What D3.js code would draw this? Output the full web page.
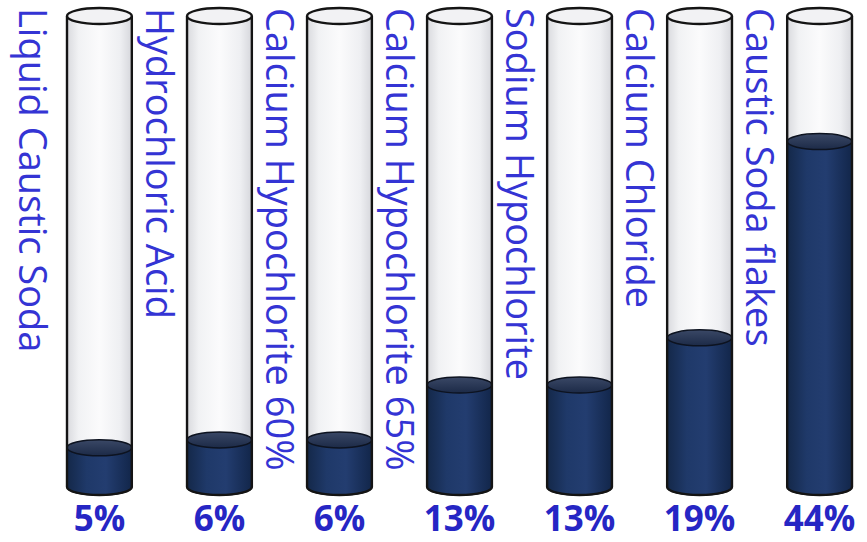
<!DOCTYPE html>
<html>
<head>
<meta charset="utf-8">
<title>Tubes</title>
<style>
body { margin: 0; background: #ffffff; }
svg { display: block; }
.label { font-family: "Open Sans", sans-serif; font-size: 38px; fill: #3434d4; }
.pct { font-family: "Open Sans", sans-serif; font-size: 35px; font-weight: bold; fill: #2626c4; }
</style>
</head>
<body>
<script src="https://cdn.jsdelivr.net/npm/d3@7"></script>
<script>
var categories = ["Liquid Caustic Soda", "Hydrochloric Acid", "Calcium Hypochlorite 60%",
                  "Calcium Hypochlorite 65%", "Sodium Hypochlorite", "Calcium Chloride",
                  "Caustic Soda flakes"];
var values = [5, 6, 6, 13, 13, 19, 44];
var valueLabels = ["5%", "6%", "6%", "13%", "13%", "19%", "44%"];

var width = 867, height = 542;
var ry = 8;

var svg = d3.select("body").append("svg")
    .attr("width", width)
    .attr("height", height);

var x = d3.scaleBand()
    .domain(categories)
    .range([67, 852])
    .paddingInner(0.46);

var y = d3.scaleLinear()
    .domain([0, 60])
    .range([487, 16]);

var defs = svg.append("defs");

var glass = defs.append("linearGradient").attr("id", "glass");
[[0, "#d9dade"], [0.18, "#f1f2f4"], [0.5, "#fbfbfc"], [0.82, "#eeeff2"], [1, "#d6d7dc"]]
    .forEach(function(s) {
        glass.append("stop").attr("offset", s[0]).attr("stop-color", s[1]);
    });

var liquid = defs.append("linearGradient").attr("id", "liquid");
[[0, "#142849"], [0.3, "#1f3969"], [0.6, "#233d70"], [1, "#12264a"]]
    .forEach(function(s) {
        liquid.append("stop").attr("offset", s[0]).attr("stop-color", s[1]);
    });

var surface = defs.append("linearGradient").attr("id", "surface")
    .attr("x1", 0).attr("y1", 0).attr("x2", 0).attr("y2", 1);
[[0, "#3a4866"], [1, "#1c2a47"]]
    .forEach(function(s) {
        surface.append("stop").attr("offset", s[0]).attr("stop-color", s[1]);
    });

var yBottom = y(0), yRim = y.range()[1];

var tubes = svg.selectAll("g.tube")
    .data(categories)
    .enter()
    .append("g")
    .attr("class", "tube");

function bodyPath(x0, w, yTop) {
    var rx = w / 2;
    return "M" + x0 + "," + yTop +
        "L" + x0 + "," + yBottom +
        "A" + rx + "," + ry + " 0 0 0 " + (x0 + w) + "," + yBottom +
        "L" + (x0 + w) + "," + yTop + "Z";
}

// glass
tubes.append("path")
    .attr("d", function(d) { return bodyPath(x(d), x.bandwidth(), yRim); })
    .attr("fill", "url(#glass)");

// liquid
tubes.append("path")
    .attr("d", function(d, i) { return bodyPath(x(d), x.bandwidth(), y(values[i])); })
    .attr("fill", "url(#liquid)")
    .attr("stroke", "#0d1320")
    .attr("stroke-width", 1.5);

tubes.append("ellipse")
    .attr("cx", function(d) { return x(d) + x.bandwidth() / 2; })
    .attr("cy", function(d, i) { return y(values[i]); })
    .attr("rx", x.bandwidth() / 2)
    .attr("ry", ry)
    .attr("fill", "url(#surface)")
    .attr("stroke", "#0d1320")
    .attr("stroke-width", 1.5);

// outline
tubes.append("path")
    .attr("d", function(d) {
        var x0 = x(d), w = x.bandwidth();
        return "M" + x0 + "," + yRim + "L" + x0 + "," + yBottom +
            "A" + (w / 2) + "," + ry + " 0 0 0 " + (x0 + w) + "," + yBottom +
            "L" + (x0 + w) + "," + yRim;
    })
    .attr("fill", "none")
    .attr("stroke", "#141414")
    .attr("stroke-width", 2.4);

tubes.append("ellipse")
    .attr("cx", function(d) { return x(d) + x.bandwidth() / 2; })
    .attr("cy", yRim)
    .attr("rx", x.bandwidth() / 2)
    .attr("ry", ry)
    .attr("fill", "#f2f2f4")
    .attr("stroke", "#141414")
    .attr("stroke-width", 2.4);

// rotated category labels, the first one sits a bit further left
svg.selectAll("text.label")
    .data(categories)
    .enter()
    .append("text")
    .attr("class", "label")
    .attr("transform", function(d, i) {
        return "translate(" + (x(d) - (i === 0 ? 48 : 41)) + ",8) rotate(90)";
    })
    .text(function(d) { return d; });

// value labels
svg.selectAll("text.pct")
    .data(categories)
    .enter()
    .append("text")
    .attr("class", "pct")
    .attr("x", function(d) { return x(d) + x.bandwidth() / 2; })
    .attr("y", 531)
    .attr("text-anchor", "middle")
    .text(function(d, i) { return valueLabels[i]; });
</script>
</body>
</html>
